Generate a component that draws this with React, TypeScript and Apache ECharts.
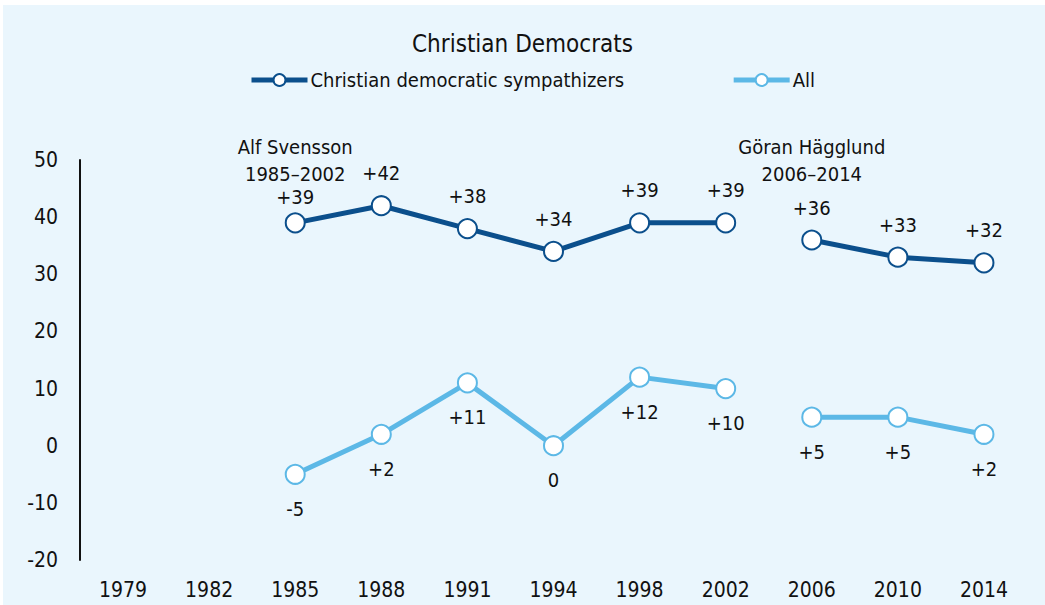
import React, { useEffect, useRef } from "react";
import * as echarts from "echarts";

const years = ["1979", "1982", "1985", "1988", "1991", "1994", "1998", "2002", "2006", "2010", "2014"];
const sympathizers = [null, null, 39, 42, 38, 34, 39, 39, 36, 33, 32];
const allVoters = [null, null, -5, 2, 11, 0, 12, 10, 5, 5, 2];
// index where the second leadership period begins (line is broken there)
const breakIndex = 8;
const leaders = [
  { index: 2, name: "Alf Svensson", period: "1985–2002" },
  { index: 8, name: "Göran Hägglund", period: "2006–2014" },
];

const DARK = "#0b4f8c";
const LIGHT = "#5cb8e6";
const FONT = "'Liberation Sans Narrow', 'DejaVu Sans Condensed', 'Open Sans', sans-serif";

const fmt = (v: number) => (v > 0 ? "+" + v : String(v));

function segment(values: (number | null)[], from: number, to: number, nudgeFirst: boolean) {
  return values.map((v, i) => {
    if (i < from || i >= to || v == null) return null;
    // the first label under Alf Svensson's annotation sits a bit closer to its point
    if (nudgeFirst && i === leaders[0].index) {
      return { value: v, label: { distance: 5 } };
    }
    return v;
  });
}

export default function App() {
  const ref = useRef<HTMLDivElement>(null);
  useEffect(() => {
    if (!ref.current) return;
    const chart = echarts.init(ref.current, undefined, { renderer: "svg" });
    const lineSeries = (name: string, color: string, data: any[], above: boolean, extra: any = {}) => ({
      name,
      type: "line",
      data,
      connectNulls: false,
      symbol: "circle",
      symbolSize: 19,
      itemStyle: { color: "#ffffff", borderColor: color, borderWidth: 2 },
      lineStyle: { color, width: 5 },
      label: {
        show: true,
        position: above ? "top" : "bottom",
        distance: above ? 12 : 14,
        color: "#111",
        fontSize: 20,
        fontFamily: FONT,
        formatter: (p: any) => fmt(p.value),
      },
      z: above ? 3 : 2,
      ...extra,
    });
    const leaderMarks = {
      markPoint: {
        symbol: "circle",
        symbolSize: 0,
        silent: true,
        label: {
          show: true,
          position: "inside",
          color: "#111",
          fontSize: 20,
          lineHeight: 27,
          fontFamily: FONT,
          formatter: (p: any) => p.name,
        },
        data: leaders.map((l) => ({
          name: `${l.name}\n${l.period}`,
          coord: [l.index, 50],
        })),
      },
    };
    chart.setOption({
      animation: false,
      backgroundColor: "transparent",
      textStyle: { fontFamily: FONT },
      title: {
        text: "Christian Democrats",
        left: "center",
        top: 27,
        textStyle: { fontSize: 24, fontWeight: "normal", color: "#111", fontFamily: FONT },
      },
      legend: {
        top: 65,
        left: 244,
        itemGap: 107,
        itemWidth: 56,
        itemHeight: 15,
        textStyle: { fontSize: 20, color: "#111", fontFamily: FONT, padding: [0, 0, 0, -2] },
        data: [
          {
            name: "Christian democratic sympathizers",
            itemStyle: { color: "#fff", borderColor: DARK, borderWidth: 2 },
            lineStyle: { color: DARK, width: 5 },
          },
          {
            name: "All",
            itemStyle: { color: "#fff", borderColor: LIGHT, borderWidth: 2 },
            lineStyle: { color: LIGHT, width: 5 },
          },
        ],
      },
      grid: { left: 80, right: 18, top: 160, bottom: 45, containLabel: false },
      xAxis: {
        type: "category",
        data: years,
        boundaryGap: true,
        axisLine: { show: false },
        axisTick: { show: false },
        axisLabel: { fontSize: 21, color: "#111", margin: 19, fontFamily: FONT },
        splitLine: { show: false },
      },
      yAxis: {
        type: "value",
        min: -20,
        max: 50,
        interval: 10,
        axisLine: { show: true, lineStyle: { color: "#111", width: 2 } },
        axisTick: { show: false },
        splitLine: { show: false },
        axisLabel: { fontSize: 21, color: "#111", margin: 22, fontFamily: FONT },
      },
      series: [
        lineSeries("Christian democratic sympathizers", DARK, segment(sympathizers, 0, breakIndex, true), true, leaderMarks),
        lineSeries("Christian democratic sympathizers", DARK, segment(sympathizers, breakIndex, years.length, false), true),
        lineSeries("All", LIGHT, segment(allVoters, 0, breakIndex, false), false),
        lineSeries("All", LIGHT, segment(allVoters, breakIndex, years.length, false), false),
      ],
    });
    return () => chart.dispose();
  }, []);
  return (
    <div style={{ position: "fixed", left: 0, top: 0, width: 1045, height: 605, background: "#ffffff" }}>
      <div style={{ position: "absolute", left: 3, top: 5, right: 0, bottom: 0, background: "#eaf6fd" }} />
      <div ref={ref} style={{ position: "absolute", left: 0, top: 0, width: 1045, height: 605 }} />
    </div>
  );
}
